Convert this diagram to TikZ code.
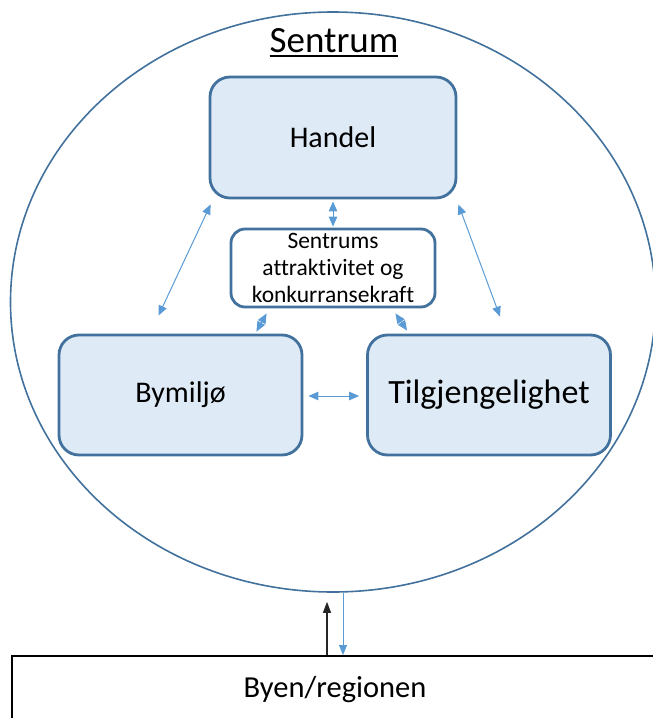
\documentclass[tikz,border=0pt]{standalone}
\usepackage{fontspec}
\setmainfont{Carlito}[Ligatures=NoCommon]
\usetikzlibrary{arrows.meta, shapes.geometric}
\definecolor{boxfill}{HTML}{DEEBF7}
\definecolor{boxline}{HTML}{41719C}
\definecolor{linkblue}{HTML}{5B9BD5}
\newcommand{\strekunder}[1]{\setbox0\hbox{#1}\rlap{\rule[-5pt]{\wd0}{1.8pt}}\box0}

\begin{document}
\begin{tikzpicture}[x=1pt, y=-1pt,
    factor/.style={draw=boxline, fill=boxfill, line width=2.8pt, rounded corners=20pt, minimum width=243pt, minimum height=120pt, font=\fontsize{30}{36}\selectfont},
    link/.style={linkblue, line width=1pt, {Triangle[length=10pt, width=8.5pt]}-{Triangle[length=10pt, width=8.5pt]}}]
  \useasboundingbox (0,0) rectangle (653,718);
  \clip (0,0) rectangle (653,718);
  \node[draw=boxline, line width=1.6pt, ellipse, minimum width=645pt, minimum height=580pt] (sentrum) at (333,302) {};
  \node[anchor=base, font=\fontsize{37}{44}\selectfont] (tittel) at (334,52) {\strekunder{Sentrum}};
  \node[factor, minimum width=246pt, minimum height=121pt] (handel) at (333,137.5) {Handel};
  \node[draw=boxline, fill=white, line width=2.8pt, rounded corners=14pt, minimum width=204pt, minimum height=78pt, align=center, inner sep=0pt, font=\fontsize{23.5}{27}\selectfont] (kjerne) at (333,268) {Sentrums\\attraktivitet og\\konkurransekraft};
  \node[factor] (bymiljo) at (180.5,395) {Bymiljø};
  \node[factor, font=\fontsize{34}{40}\selectfont] (tilgj) at (489,395) {Tilgjengelighet};
  \node[draw=black, line width=2pt, minimum width=646pt, minimum height=68pt, font=\fontsize{30.5}{36}\selectfont] (region) at (335,690) {Byen/regionen};

  \draw[link] ([shift={(0,2)}]handel.south) -- ([shift={(0,-1)}]kjerne.north);
  \draw[link] ([shift={(2,5)}]handel.south west) -- ([shift={(-22,-18)}]bymiljo.north);
  \draw[link] ([shift={(1,5)}]handel.south east) -- ([shift={(11,-17)}]tilgj.north);
  \draw[link] ([shift={(37,5)}]kjerne.south west) -- ([shift={(-47,-2)}]bymiljo.north east);
  \draw[link] ([shift={(-41,5)}]kjerne.south east) -- ([shift={(41,-3)}]tilgj.north west);
  \draw[link] ([shift={(5,1)}]bymiljo.east) -- ([shift={(-7,1)}]tilgj.west);
  \draw[black!85, line width=1.3pt, -{Triangle[length=11pt, width=8pt]}] ([shift={(-8,0)}]region.north) -- ([shift={(-6,9)}]sentrum.south);
  \draw[linkblue, line width=1pt, -{Triangle[length=10pt, width=8pt]}] ([shift={(10,0)}]sentrum.south) -- ([shift={(8,0)}]region.north);
\end{tikzpicture}
\end{document}
